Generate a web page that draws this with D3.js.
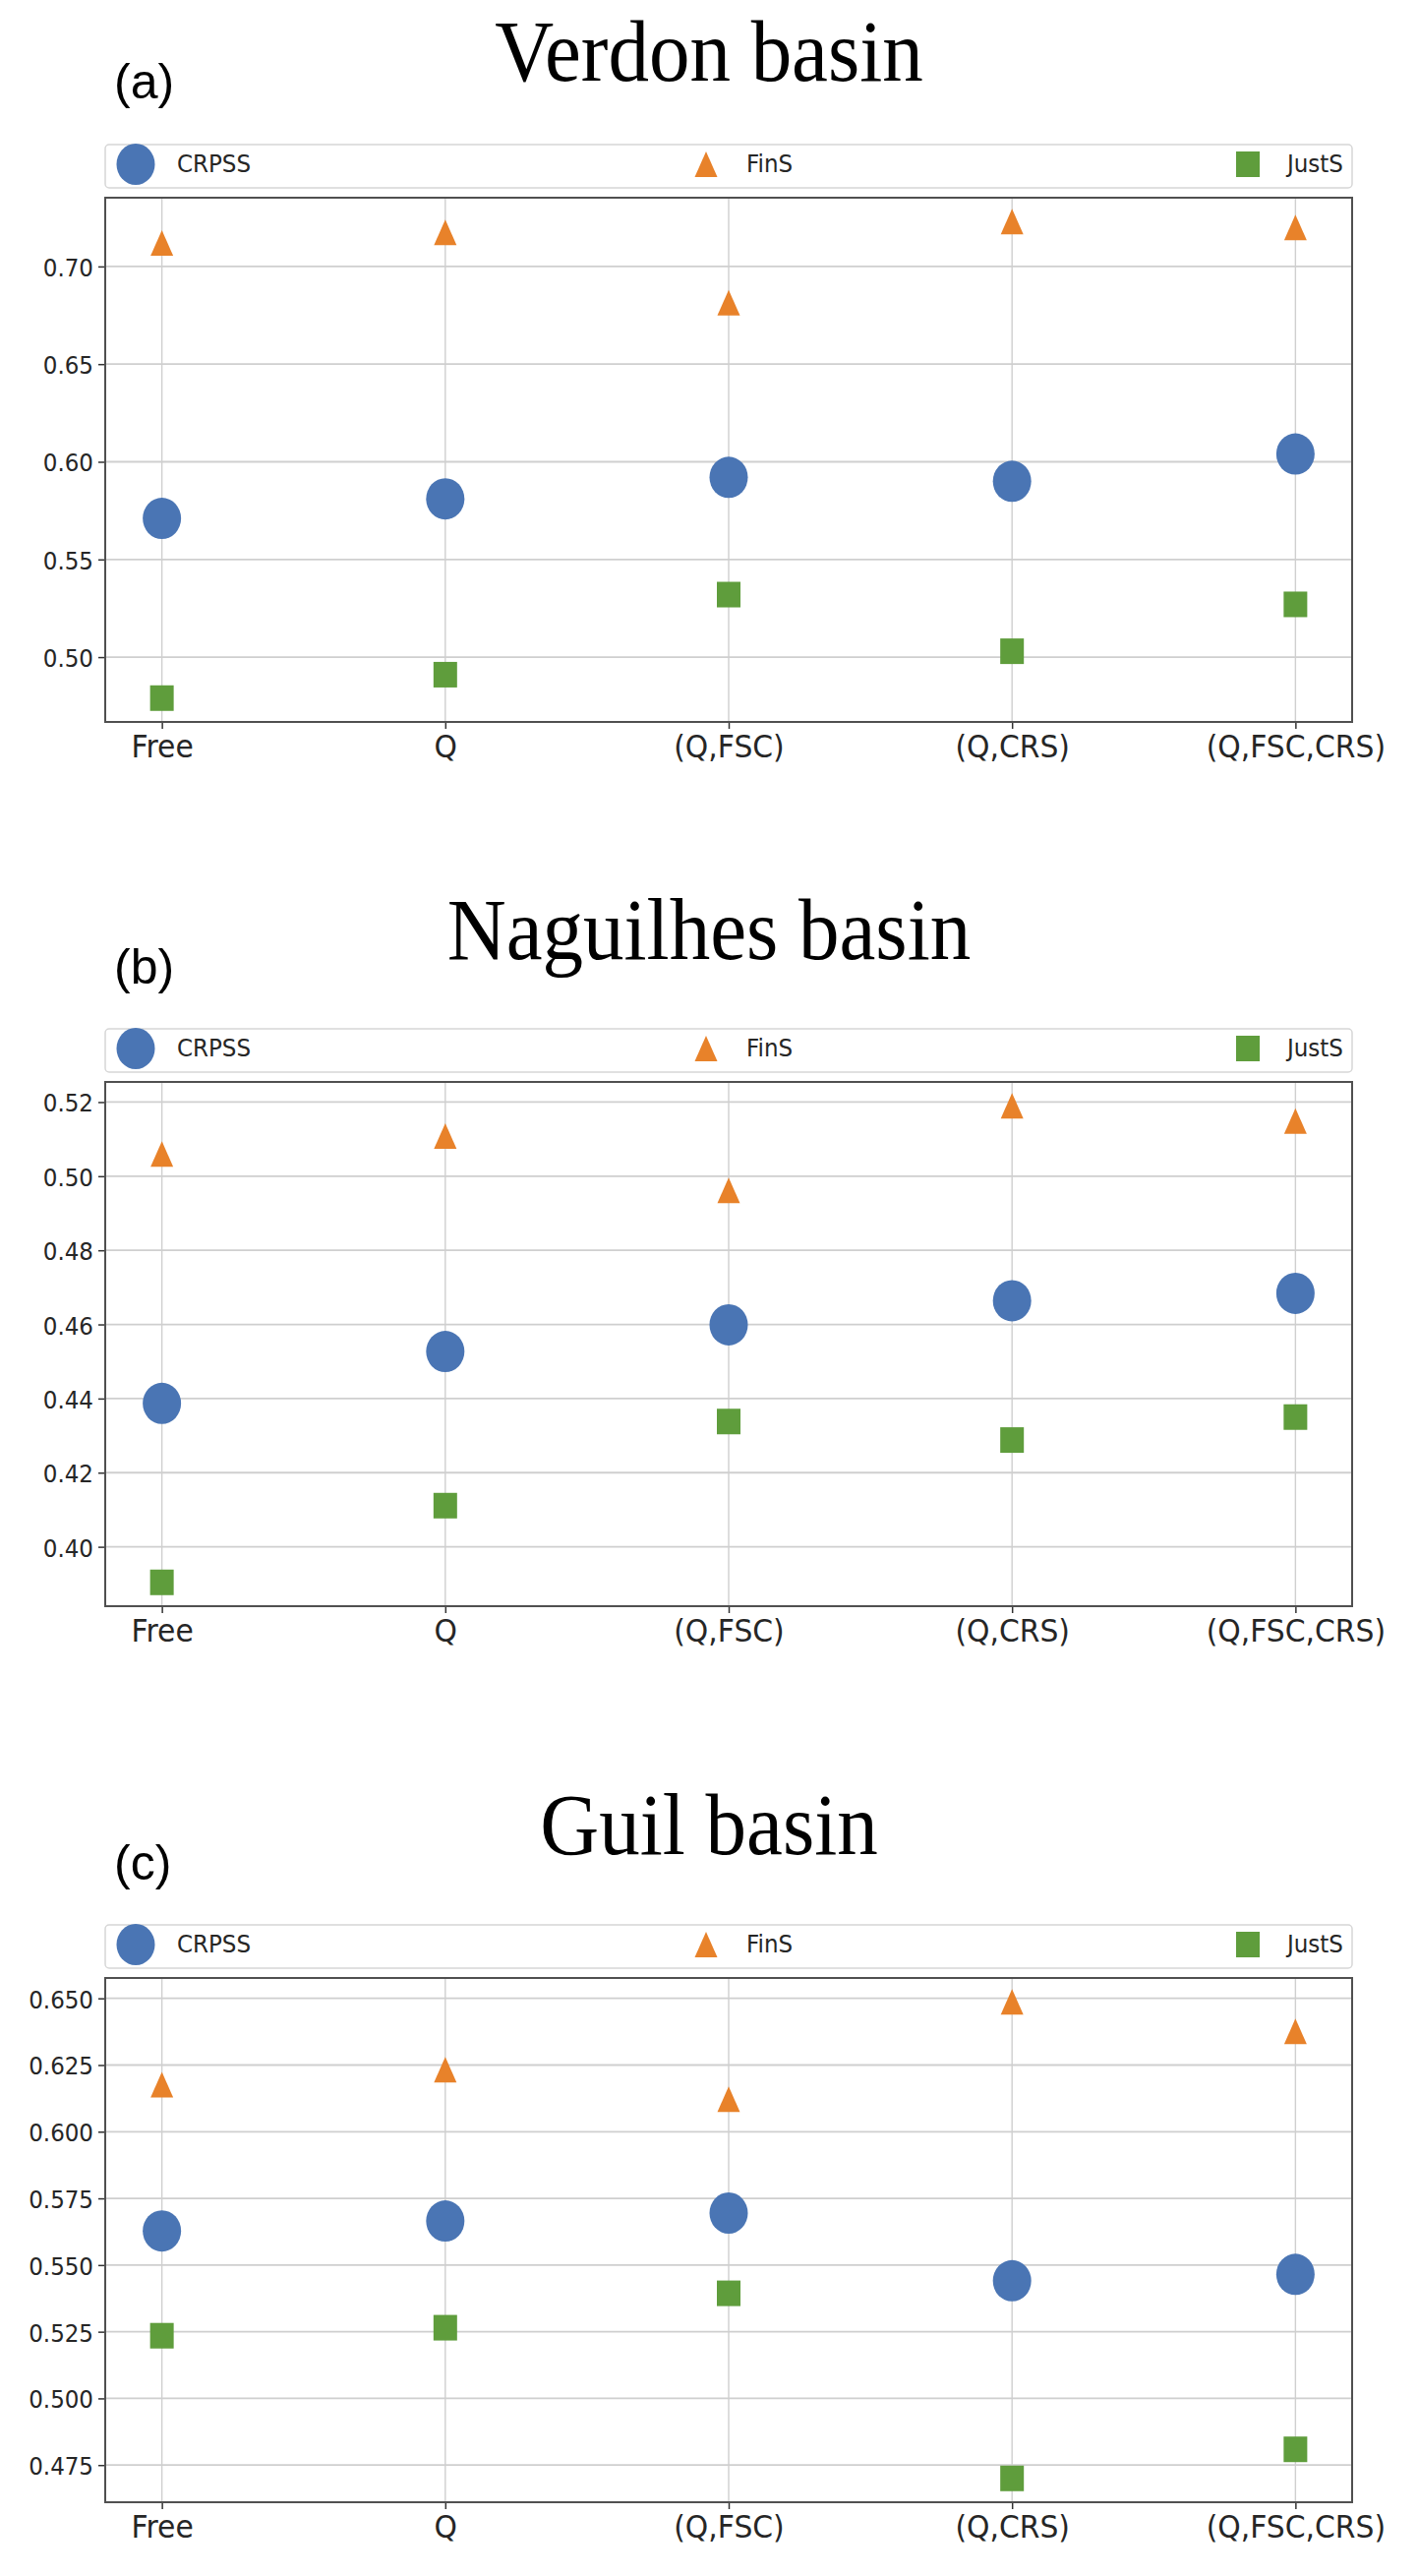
<!DOCTYPE html>
<html>
<head>
<meta charset="utf-8">
<script src="https://cdn.jsdelivr.net/npm/d3@7"></script>
<style>
body { margin:0; background:white; }
.tick text { font-family:"DejaVu Sans", sans-serif; fill:#262626; }
.title { font-family:"Liberation Serif","Times New Roman", serif; fill:black; }
.tag { font-family:"Liberation Sans", Arial, sans-serif; fill:black; }
.legendText { font-family:"DejaVu Sans", sans-serif; fill:#262626; }
</style>
</head>
<body>
<svg id="chart"></svg>
<script>
// categories and series
var categories = ["Free", "Q", "(Q,FSC)", "(Q,CRS)", "(Q,FSC,CRS)"];
var seriesNames = ["CRPSS", "FinS", "JustS"];

// (a) Verdon basin
var verdonCRPSS = [0.571, 0.581, 0.592, 0.590, 0.604];
var verdonFinS  = [0.712, 0.7175, 0.6815, 0.723, 0.720];
var verdonJustS = [0.479, 0.491, 0.532, 0.503, 0.527];
var verdonTicks = [0.50, 0.55, 0.60, 0.65, 0.70];

// (b) Naguilhes basin
var naguilhesCRPSS = [0.4387, 0.4527, 0.4599, 0.4664, 0.4684];
var naguilhesFinS  = [0.5060, 0.5108, 0.4962, 0.5190, 0.5149];
var naguilhesJustS = [0.3904, 0.4111, 0.4338, 0.4288, 0.4350];
var naguilhesTicks = [0.40, 0.42, 0.44, 0.46, 0.48, 0.50, 0.52];

// (c) Guil basin
var guilCRPSS = [0.5628, 0.5665, 0.5695, 0.5441, 0.5465];
var guilFinS  = [0.6176, 0.6232, 0.6122, 0.6487, 0.6376];
var guilJustS = [0.5235, 0.5265, 0.5394, 0.4700, 0.4809];
var guilTicks = [0.475, 0.500, 0.525, 0.550, 0.575, 0.600, 0.625, 0.650];

var colors = {CRPSS:"#4a75b4", FinS:"#e8822a", JustS:"#5f9d3c"};

var screen = {width:1442, height:2619};
var plot = {left:107, right:1375, height:533};

var panels = [
    {title:"Verdon basin", tag:"(a)", top:201, titleY:82, tagY:100, fmt:".2f",
     series:[verdonCRPSS, verdonFinS, verdonJustS], ticks:verdonTicks},
    {title:"Naguilhes basin", tag:"(b)", top:1100, titleY:975, tagY:1000, fmt:".2f",
     series:[naguilhesCRPSS, naguilhesFinS, naguilhesJustS], ticks:naguilhesTicks},
    {title:"Guil basin", tag:"(c)", top:2011, titleY:1885, tagY:1911, fmt:".3f",
     series:[guilCRPSS, guilFinS, guilJustS], ticks:guilTicks}
];

var svg = d3.select("#chart")
    .attr("width", screen.width)
    .attr("height", screen.height);

// draws one marker shape centred on 0,0
var drawMarker = function(sel, name)
{
    if(name == "CRPSS")
    {
        sel.append("ellipse").attr("rx",19.5).attr("ry",21).attr("fill",colors.CRPSS);
    }
    else if(name == "FinS")
    {
        sel.append("path").attr("d","M0,-13L11.5,13L-11.5,13Z").attr("fill",colors.FinS);
    }
    else
    {
        sel.append("rect").attr("x",-12).attr("y",-13).attr("width",24).attr("height",26)
            .attr("fill",colors.JustS);
    }
}

var drawPanel = function(p)
{
    var all = d3.merge(p.series);
    var lo = d3.min(all), hi = d3.max(all);
    var pad = (hi - lo) * 0.05;

    var xScale = d3.scalePoint()
        .domain(categories)
        .range([plot.left, plot.right])
        .padding(0.2);
    var yScale = d3.scaleLinear()
        .domain([lo - pad, hi + pad])
        .range([p.top + plot.height, p.top]);

    var g = svg.append("g").classed("panel", true);

    // title and tag
    g.append("text").classed("title", true)
        .text(p.title)
        .attr("text-anchor","middle")
        .attr("font-size", 83)
        .attr("transform","translate(721," + p.titleY + ") scale(1,1.06)");
    g.append("text").classed("tag", true)
        .text(p.tag)
        .attr("font-size", 50)
        .attr("transform","translate(116," + p.tagY + ")");

    // legend
    var legTop = p.top - 54;
    var legend = g.append("g");
    legend.append("rect")
        .attr("x", plot.left).attr("y", legTop)
        .attr("width", plot.right - plot.left).attr("height", 44)
        .attr("rx", 4)
        .attr("fill", "white")
        .attr("stroke", "#d6d6d6")
        .attr("stroke-width", 1.5);
    var legMarkX = [138, 718, 1269];
    var legTextX = [180, 759, 1309];
    seriesNames.forEach(function(name, i)
    {
        var m = legend.append("g").attr("transform","translate(" + legMarkX[i] + "," + (legTop + 20) + ")");
        drawMarker(m, name);
        legend.append("text").classed("legendText", true)
            .text(name)
            .attr("font-size", 23)
            .attr("transform","translate(" + legTextX[i] + "," + (legTop + 28) + ") scale(1,1.07)");
    });

    // grid
    g.append("g").selectAll("line.h")
        .data(p.ticks)
        .enter()
        .append("line")
        .attr("x1", plot.left).attr("x2", plot.right)
        .attr("y1", function(d){return yScale(d)})
        .attr("y2", function(d){return yScale(d)})
        .attr("stroke","#cfcfcf")
        .attr("stroke-width",1.8);
    g.append("g").selectAll("line.v")
        .data(categories)
        .enter()
        .append("line")
        .attr("x1", function(d){return xScale(d)})
        .attr("x2", function(d){return xScale(d)})
        .attr("y1", p.top).attr("y2", p.top + plot.height)
        .attr("stroke","#cfcfcf")
        .attr("stroke-width",1.4);

    // axes
    var yAxis = d3.axisLeft(yScale)
        .tickValues(p.ticks)
        .tickFormat(d3.format(p.fmt))
        .tickSize(7);
    var xAxis = d3.axisBottom(xScale).tickSize(7);

    var ya = g.append("g")
        .attr("transform","translate(" + plot.left + ",0)")
        .call(yAxis);
    ya.select(".domain").remove();
    ya.selectAll(".tick line").attr("stroke","#333").attr("stroke-width",1.5);
    ya.selectAll(".tick text")
        .attr("font-size",23)
        .attr("x",null).attr("dy",null)
        .attr("transform","translate(-12,9.5) scale(1,1.07)");

    var xa = g.append("g")
        .attr("transform","translate(0," + (p.top + plot.height) + ")")
        .call(xAxis);
    xa.select(".domain").remove();
    xa.selectAll(".tick line").attr("stroke","#333").attr("stroke-width",1.5);
    xa.selectAll(".tick text")
        .attr("font-size",29.8)
        .attr("y",null).attr("dy",null)
        .attr("transform","translate(0,36) scale(1,1.05)");

    // frame
    g.append("rect")
        .attr("x", plot.left).attr("y", p.top)
        .attr("width", plot.right - plot.left).attr("height", plot.height)
        .attr("fill","none")
        .attr("stroke","#505050")
        .attr("stroke-width",2);

    // markers
    seriesNames.forEach(function(name, s)
    {
        g.append("g").selectAll("g")
            .data(p.series[s])
            .enter()
            .append("g")
            .attr("transform", function(v, i){return "translate(" + xScale(categories[i]) + "," + yScale(v) + ")"})
            .each(function(){ drawMarker(d3.select(this), name) });
    });
}

panels.forEach(drawPanel);
</script>
</body>
</html>
